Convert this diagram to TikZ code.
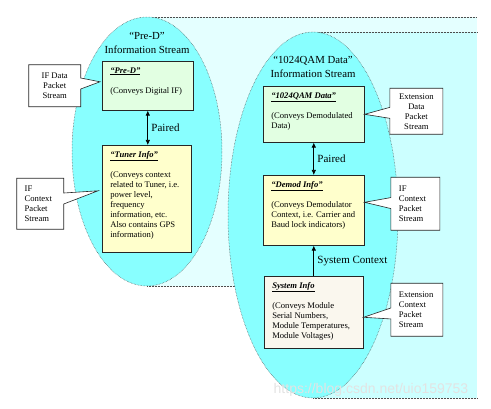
\documentclass[tikz,border=0pt]{standalone}
\usepackage{fontspec}
\setmainfont{Liberation Serif}
\newfontfamily\wmfont{Liberation Sans}
\usetikzlibrary{arrows.meta,positioning,shapes.callouts}
\definecolor{bodyA}{HTML}{E4FFFF}
\definecolor{bodyB}{HTML}{CCFFFF}
\definecolor{streamcyan}{HTML}{88FFFF}
\definecolor{datagreen}{HTML}{E2FFE2}
\definecolor{infoyellow}{HTML}{FFFFCC}
\definecolor{sysbeige}{HTML}{FAF7EE}
\newcommand{\hdr}[1]{\underline{\textbf{\textit{#1}}}}
\newcommand{\boxtext}[3]{\parbox[t][#2][t]{#1}{\raggedright #3}}

\begin{document}
\begin{tikzpicture}[x=1pt, y=-1pt, >=Latex]
		\tikzset{
			rim/.style={draw=gray!60!black, densely dotted, line width=0.5pt},
			stream/.style={rim, fill=streamcyan},
			box/.style={draw=black!85, line width=0.6pt, anchor=north west, inner xsep=8pt, inner ysep=6pt, font=\fontsize{8.6}{10}\selectfont},
			tag/.style={rectangle callout, draw=black!85, line width=0.6pt, fill=white, inner xsep=8pt, inner ysep=0pt, callout pointer width=11pt, font=\fontsize{8.6}{10}\selectfont},
			title/.style={align=center, font=\fontsize{10.8}{14}\selectfont},
			lbl/.style={font=\fontsize{11}{13}\selectfont},
			arr/.style={->, line width=0.7pt, >={Latex[length=5pt,width=4.5pt]}},
		}
		\useasboundingbox (0,0) rectangle (491,409);
		
		\fill[bodyA] (147,17) rectangle (477,286);
		\draw[rim] (147,17) -- (477,17);
		\draw[rim] (147,286) -- (477,286);
		\draw[stream] (147,151.5) ellipse [x radius=75pt, y radius=134.5pt];
		\fill[bodyB] (313,32) rectangle (477,398);
		\draw[rim] (313,32) -- (477,32);
		\draw[rim] (313,398) -- (477,398);
		\draw[stream] (313,215) ellipse [x radius=85pt, y radius=183pt];
		
		\node[title] (T1) at (147,43) {“Pre-D”\\Information Stream};
		\node[title] (T2) at (313,67) {“1024QAM Data”\\Information Stream};
		
		\node[box, fill=datagreen] (PD) at (102,61) {\boxtext{75pt}{37pt}{\hdr{“Pre-D”}\\[10pt](Conveys Digital IF)}};
		\node[box, fill=infoyellow] (TI) at (102,145) {\boxtext{73pt}{95pt}{\hdr{“Tuner Info”}\\[10pt](Conveys context\\related to Tuner, i.e.\\power level,\\frequency\\information, etc.\\Also contains GPS\\information)}};
		\node[box, fill=datagreen] (QD) at (263,86) {\boxtext{85pt}{44pt}{\hdr{“1024QAM Data”}\\[10pt](Conveys Demodulated\\Data)}};
		\node[box, fill=infoyellow] (DI) at (263,175) {\boxtext{85pt}{58pt}{\hdr{“Demod Info”}\\[10pt](Conveys Demodulator\\Context, i.e. Carrier and\\Baud lock indicators)}};
		\node[box, fill=sysbeige] (SI) at (264,276) {\boxtext{83pt}{60pt}{\hdr{System Info}\\[10pt](Conveys Module\\Serial Numbers,\\Module Temperatures,\\Module Voltages)}};
		
		\draw[arr, <->] (PD.south) -- node[right, lbl] {Paired} (PD.south |- TI.north);
		\draw[arr, <->] (QD) -- node[right, lbl] {Paired} (DI);
		\draw[arr] (SI) -- node[right, lbl] {System Context} (DI);
		
		\node[tag, align=center, minimum width=52pt, minimum height=42pt, left=21pt of PD, callout absolute pointer={([xshift=-2pt, yshift=4pt]PD.west)}] (C1) {IF Data\\Packet\\Stream};
		\node[tag, align=left, text width=31pt, minimum height=51pt, left=38pt of TI, yshift=-5pt, callout absolute pointer={([xshift=-4pt, yshift=8pt]TI.west)}] (C2) {IF\\Context\\Packet\\Stream};
		\node[tag, align=center, minimum width=53pt, minimum height=46pt, right=25pt of QD, yshift=3pt, callout absolute pointer={(QD.east)}] (C3) {Extension\\Data\\Packet\\Stream};
		\node[tag, align=left, text width=33pt, minimum height=53pt, right=26pt of DI, yshift=6.5pt, callout absolute pointer={([yshift=8pt]DI.east)}] (C4) {IF\\Context\\Packet\\Stream};
		\node[tag, align=left, text width=36pt, minimum height=53pt, right=27pt of SI, yshift=2.5pt, callout absolute pointer={([yshift=-5pt]SI.east)}] (C5) {Extension\\Context\\Packet\\Stream};
		
		\node[text=gray!22, font=\wmfont\fontsize{14}{16}\selectfont] (WM) at (371,390) {https://blog.csdn.net/uio159753};
	\end{tikzpicture}
\end{document}
